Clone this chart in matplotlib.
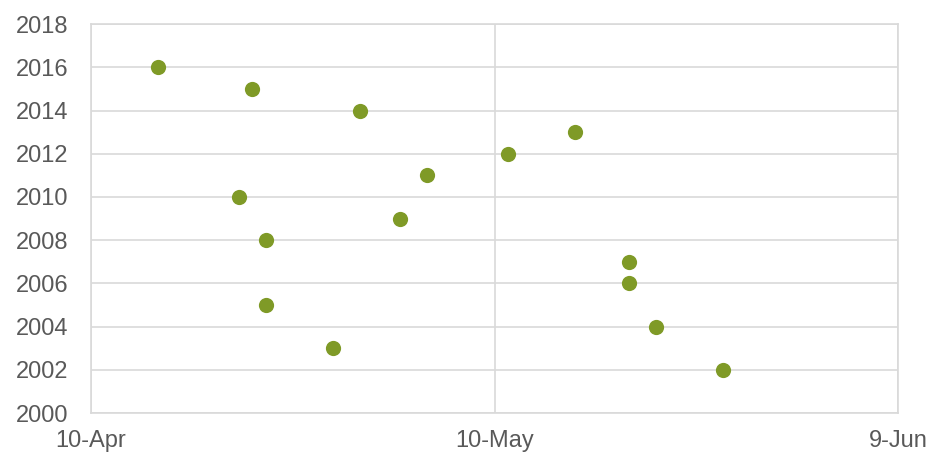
import datetime as dt

import matplotlib
matplotlib.use("Agg")
import matplotlib.pyplot as plt
import matplotlib.dates as mdates

# first-event date per year
years = [2016, 2015, 2014, 2013, 2012, 2011, 2010, 2009,
         2008, 2007, 2006, 2005, 2004, 2003, 2002]
dates = ["04-15", "04-22", "04-30", "05-16", "05-11", "05-05", "04-21", "05-03",
         "04-23", "05-20", "05-20", "04-23", "05-22", "04-28", "05-27"]
x_ticks = ["2000-04-10", "2000-05-10", "2000-06-09"]
x_labels = ["10-Apr", "10-May", "9-Jun"]

GRID = "#d9d9d9"
TEXT = "#595959"
GREEN = "#7f9a27"

xs = [dt.date(2000, int(d[:2]), int(d[3:])) for d in dates]
ticks = [dt.date.fromisoformat(t) for t in x_ticks]

plt.rcParams["font.family"] = ["Liberation Sans", "DejaVu Sans"]
fig = plt.figure(figsize=(9.26, 4.55), dpi=100)
ax = fig.add_axes([0.0983, 0.0923, 0.8715, 0.8547])

ax.scatter(xs, years, s=120, color=GREEN, zorder=3, linewidths=0)

ax.set_xlim(ticks[0], ticks[-1])
ax.set_ylim(2000, 2018)
ax.set_yticks(range(2000, 2019, 2))
ax.set_xticks(ticks)
ax.set_xticklabels(x_labels)

ax.grid(True, color=GRID, lw=1.2, zorder=0)
for s in ax.spines.values():
    s.set_color(GRID)
    s.set_linewidth(1.2)
ax.tick_params(length=0, labelsize=17, labelcolor=TEXT)
ax.tick_params(axis="y", pad=16)
ax.tick_params(axis="x", pad=12)

fig.savefig("out.png", dpi=100)
